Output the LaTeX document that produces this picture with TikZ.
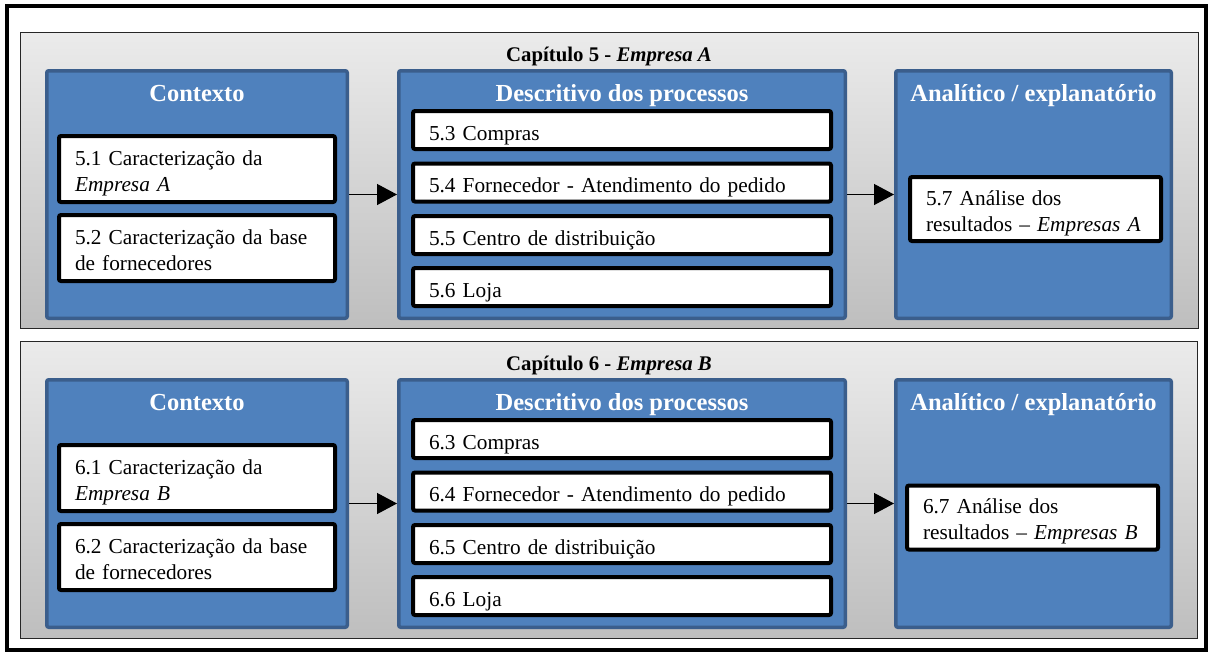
\documentclass[tikz,border=0pt]{standalone}
\usepackage{fontspec}
\setmainfont{Liberation Serif}
\usetikzlibrary{arrows.meta}
\definecolor{bluefill}{HTML}{4F81BD}
\definecolor{blueline}{HTML}{3B5E8C}
\definecolor{paneltop}{HTML}{EBEBEB}
\definecolor{panelbot}{HTML}{BEBEBE}
\tikzset{
 frame/.style={draw=black, line width=3.5pt},
 panel/.style={draw=black!85, line width=1pt, top color=paneltop, bottom color=panelbot, inner sep=0pt},
 bluebox/.style={draw=blueline, fill=bluefill, line width=3.5pt, rounded corners=2pt, inner sep=0pt, minimum height=247.5pt},
 header/.style={text=white, font=\fontsize{24.5}{28}\selectfont\bfseries, inner sep=0pt, anchor=base},
 chaptitle/.style={font=\fontsize{20.8}{24}\selectfont\bfseries, inner sep=0pt, anchor=base},
 itembox/.style={draw=black, fill=white, line width=4pt, rounded corners=2pt, inner xsep=16pt, inner ysep=0pt, align=left, font=\fontsize{21.3}{26}\selectfont},
 oneline/.style={itembox, text height=20pt, text depth=0pt, minimum width=418pt, text width=386pt, minimum height=38pt},
 twoline/.style={itembox, text height=20pt, text depth=28pt},
 ctxitem/.style={twoline, minimum width=276pt, text width=244pt, minimum height=66pt},
 anaitem/.style={twoline, minimum width=251pt, text width=219pt, minimum height=64pt},
 flow/.style={-{Triangle[length=20pt,width=21pt]}, line width=1.3pt}
}
\begin{document}
\begin{tikzpicture}[x=1pt,y=-1pt]
\useasboundingbox (0,0) rectangle (1212,659);
\draw[frame] (7,6) rectangle (1206,650);

% ---------- Chapter 5 ----------
\node[panel, minimum width=1178pt, minimum height=296pt] (panA) at (609,180) {};
\node[chaptitle] (titA) at (609,61) {Capítulo 5 - \textit{Empresa A}};

\node[bluebox, minimum width=300.5pt] (ctxA) at (197,194.5) {};
\node[bluebox, minimum width=446.5pt] (descA) at (622,194.5) {};
\node[bluebox, minimum width=275.5pt] (anaA) at (1033.5,194.5) {};

\node[header] (hctxA) at (197,101) {Contexto};
\node[header] (hdescA) at (622,101) {Descritivo dos processos};
\node[header] (hanaA) at (1033.5,101) {Analítico / explanatório};

\node[ctxitem] (a51) at (197,169) {5.1 Caracterização da\\\textit{Empresa A}};
\node[ctxitem] (a52) at (197,248) {5.2 Caracterização da base\\de fornecedores};

\node[oneline] (a53) at (622,130) {5.3 Compras};
\node[oneline] (a54) at (622,182.5) {5.4 Fornecedor - Atendimento do pedido};
\node[oneline] (a55) at (622,235) {5.5 Centro de distribuição};
\node[oneline] (a56) at (622,287) {5.6 Loja};

\node[anaitem] (a57) at (1035.5,209) {5.7 Análise dos\\resultados – \textit{Empresas A}};

\draw[flow] (ctxA.east) -- (descA.west);
\draw[flow] (descA.east) -- (anaA.west);

% ---------- Chapter 6 ----------
\node[panel, minimum width=1177pt, minimum height=297pt] (panB) at (608.5,489.5) {};
\node[chaptitle] (titB) at (609,370) {Capítulo 6 - \textit{Empresa B}};

\node[bluebox, minimum width=300.5pt] (ctxB) at (197,503.5) {};
\node[bluebox, minimum width=446.5pt] (descB) at (622,503.5) {};
\node[bluebox, minimum width=275.5pt] (anaB) at (1033.5,503.5) {};

\node[header] (hctxB) at (197,410) {Contexto};
\node[header] (hdescB) at (622,410) {Descritivo dos processos};
\node[header] (hanaB) at (1033.5,410) {Analítico / explanatório};

\node[ctxitem] (b61) at (197,478) {6.1 Caracterização da\\\textit{Empresa B}};
\node[ctxitem] (b62) at (197,557) {6.2 Caracterização da base\\de fornecedores};

\node[oneline] (b63) at (622,439) {6.3 Compras};
\node[oneline] (b64) at (622,491.5) {6.4 Fornecedor - Atendimento do pedido};
\node[oneline] (b65) at (622,544) {6.5 Centro de distribuição};
\node[oneline] (b66) at (622,596) {6.6 Loja};

\node[anaitem] (b67) at (1032.5,517.5) {6.7 Análise dos\\resultados – \textit{Empresas B}};

\draw[flow] (ctxB.east) -- (descB.west);
\draw[flow] (descB.east) -- (anaB.west);
\end{tikzpicture}
\end{document}
